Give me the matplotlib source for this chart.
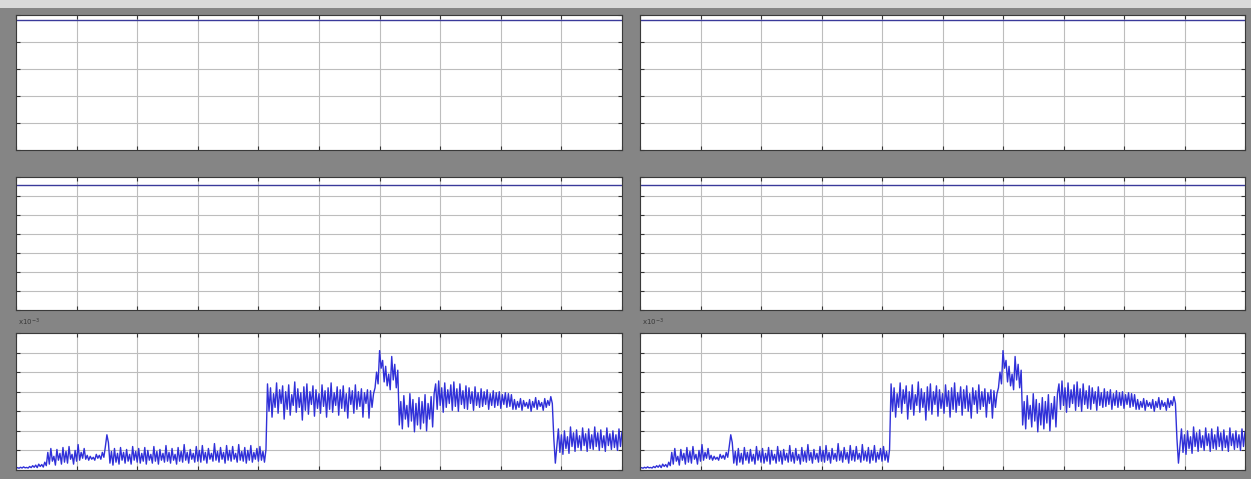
import numpy as np
import matplotlib
matplotlib.use("Agg")
import matplotlib.pyplot as plt

# Scope traces: two constant reference signals and one measured current trace
ref_level_top = 1.2      # first row, y range 0..1.25
ref_level_mid = 6.6      # second row, y range 0..7

# measured trace (x1e-3), sampled every 0.025 s from 0 to 10 s
trace_start = [0.10, 0.12, 0.09, 0.14, 0.10, 0.16, 0.11, 0.13, 0.10, 0.18,
               0.12, 0.22, 0.14, 0.25, 0.12, 0.30, 0.18, 0.28, 0.15, 0.40, 0.22]
trace_low = [0.90, 0.30, 1.10, 0.45, 0.70, 0.25, 1.05, 0.50, 0.85, 0.30,
             1.15, 0.40, 0.95, 0.35, 1.20, 0.55, 0.80, 0.30, 1.00, 0.45,
             1.30, 0.50, 0.90, 0.60, 1.10, 0.55, 0.75, 0.50, 0.70, 0.55,
             0.65, 0.50, 0.80, 0.60, 0.75, 0.55, 0.90, 0.65, 1.20, 1.80,
             1.40, 0.35, 0.95, 0.25, 1.10, 0.40, 0.85, 0.30, 1.15, 0.50,
             0.90, 0.35, 1.05, 0.45, 0.80, 0.30, 1.20, 0.50, 0.95, 0.40,
             1.10, 0.35, 0.85, 0.45, 1.15, 0.30, 1.00, 0.50, 0.80, 0.35,
             1.20, 0.45, 0.95, 0.30, 1.05, 0.50, 0.85, 0.40, 1.25, 0.45,
             0.90, 0.35, 1.10, 0.50, 0.80, 0.30, 1.15, 0.45, 0.95, 0.40,
             1.30, 0.50, 0.90, 0.35, 1.05, 0.55, 0.85, 0.40, 1.20, 0.45,
             1.00, 0.40, 1.25, 0.50, 0.90, 0.35, 1.10, 0.55, 0.85, 0.45,
             1.35, 0.50, 0.95, 0.40, 1.15, 0.55, 0.90, 0.35, 1.25, 0.50,
             1.00, 0.45, 1.20, 0.55, 0.85, 0.40, 1.30, 0.50, 0.95, 0.45,
             1.15, 0.35, 1.00, 0.50, 1.25, 0.40, 0.90, 0.55, 1.10, 0.45,
             1.20, 0.50, 0.95, 0.40, 1.05]
trace_high = [4.40, 3.00, 4.20, 2.70, 3.90, 3.20, 4.45, 2.90, 4.10, 3.40,
              4.30, 2.60, 4.00, 3.10, 4.35, 2.80, 3.85, 3.30, 4.50, 2.95,
              4.15, 3.20, 3.95, 2.55, 4.25, 3.05, 4.40, 2.85, 4.00, 3.35,
              4.30, 2.75, 4.10, 3.15, 3.90, 2.90, 4.35, 3.25, 4.05, 2.70,
              4.20, 3.10, 4.45, 2.95, 3.95, 3.30, 4.25, 2.80, 4.10, 3.15,
              4.30, 3.00, 3.90, 2.65, 4.20, 3.35, 4.05, 2.90, 4.35, 3.10,
              4.00, 3.25, 4.15, 2.70, 3.95, 3.40, 4.10, 2.65, 4.05, 3.20,
              3.90]
trace_bump = [4.20, 5.00, 4.40, 6.10, 5.20, 5.60, 4.50, 5.30,
              4.30, 4.90, 4.10, 5.80, 4.60, 5.40, 4.20, 5.10]
trace_dip = [2.30, 3.50, 2.10, 3.80, 2.60, 3.30, 2.20, 3.90, 2.50, 3.60,
             1.95, 3.40, 2.30, 3.70, 2.10, 3.50, 2.40, 3.85, 2.00, 3.40,
             2.60, 3.75, 2.20, 3.90]
trace_plateau = [4.40, 3.10, 4.55, 3.30, 4.20, 2.95, 4.45, 3.20, 4.10, 3.40,
                 4.35, 3.05, 4.50, 3.25, 4.15, 3.00, 4.40, 3.35, 4.05, 3.15,
                 4.30, 3.10, 4.20, 3.40, 4.00, 3.05, 4.25, 3.30, 3.95, 3.20,
                 4.15, 3.25, 4.00, 3.35, 4.10, 3.10, 3.90, 3.30, 4.05, 3.20,
                 3.95, 3.30, 4.00, 3.15, 3.85, 3.35, 3.95, 3.20, 3.90, 3.25,
                 3.85, 3.10]
trace_settle = [3.60, 3.10, 3.50, 3.20, 3.65, 3.05, 3.55, 3.25, 3.45, 3.15,
                3.60, 3.00, 3.50, 3.20, 3.70, 3.10, 3.55, 3.25, 3.45, 3.05,
                3.65, 3.20, 3.55, 3.30, 3.75, 3.40]
trace_end = [1.60, 0.35, 1.20, 2.10, 0.90, 1.80, 0.80, 2.00, 1.10, 1.70,
             0.85, 2.20, 1.20, 1.90, 0.95, 2.05, 1.15, 1.75, 1.00, 2.15,
             1.25, 1.85, 0.95, 2.10, 1.10, 1.80, 1.05, 2.20, 1.20, 1.90,
             1.00, 2.05, 1.15, 1.75, 0.95, 2.15, 1.25, 1.85, 1.05, 2.00,
             1.15, 1.80, 1.00, 2.10, 1.20, 1.95]

trace = np.array(trace_start + trace_low + trace_high + trace_bump + trace_dip
                 + trace_plateau + trace_settle + trace_end)
t = np.linspace(0.0, 10.0, len(trace))

W, H = 1251, 479
fig = plt.figure(figsize=(W / 100, H / 100), dpi=100)
fig.patch.set_facecolor("#858585")
# light strip along the top edge of the window
fig.add_artist(plt.Rectangle((0, 1 - 8 / H), 1, 8 / H, transform=fig.transFigure,
                             facecolor="#d9d9d9", edgecolor="none"))

cols = [(16, 622), (640, 1245)]
rows = [(15, 150), (177, 310), (333, 470)]
ylims = [(0, 1.25), (0, 7), (0, 7)]
yticks = [np.arange(0, 1.26, 0.25), np.arange(0, 7.1, 1), np.arange(0, 7.1, 1)]


def panel(x0, x1, y0, y1):
    return fig.add_axes([x0 / W, (H - y1) / H, (x1 - x0) / W, (y1 - y0) / H])


for ci, (x0, x1) in enumerate(cols):
    for ri, (y0, y1) in enumerate(rows):
        ax = panel(x0, x1, y0, y1)
        ax.set_facecolor("white")
        ax.set_xlim(0, 10)
        ax.set_ylim(*ylims[ri])
        ax.set_xticks(np.arange(0, 11, 1))
        ax.set_yticks(yticks[ri])
        ax.grid(True, color="#bdbdbd", linewidth=0.8, linestyle="-")
        ax.set_axisbelow(True)
        ax.tick_params(direction="in", length=3, width=0.8, color="#333333",
                       top=True, right=True, labelleft=False, labelbottom=False)
        for sp in ax.spines.values():
            sp.set_color("#3a3a3a")
            sp.set_linewidth(0.8)
        if ri == 0:
            ax.axhline(ref_level_top, color="#3a3a9a", linewidth=1.0)
        elif ri == 1:
            ax.axhline(ref_level_mid, color="#3a3a9a", linewidth=1.0)
        else:
            ax.plot(t, trace, color="#3030d8", linewidth=1.0)
            fig.text((x0 + 2) / W, (H - 322) / H, r"x10$^{-3}$", fontsize=5,
                     color="#3a3a3a", ha="left", va="center")

fig.savefig("out.png", dpi=100, facecolor=fig.get_facecolor())
